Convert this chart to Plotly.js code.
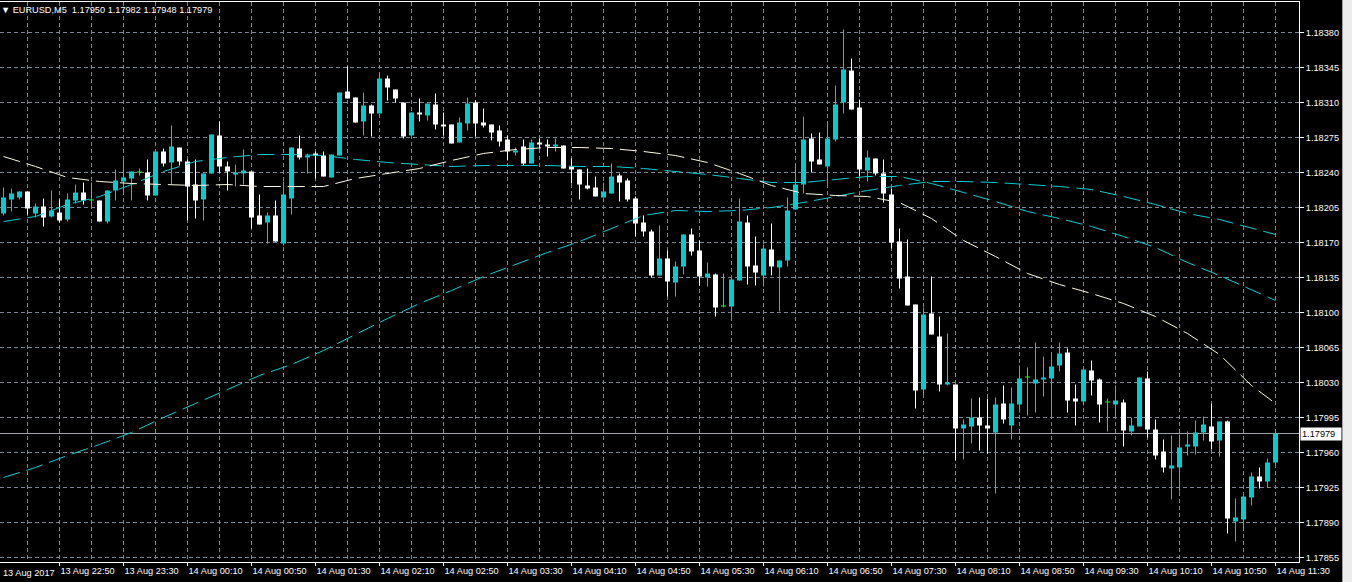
<!DOCTYPE html>
<html><head><meta charset="utf-8">
<script src="https://cdn.plot.ly/plotly-3.0.1.min.js"></script>
<style>html,body{margin:0;padding:0;background:#000;overflow:hidden}#chart{width:1352px;height:582px}</style>
</head><body><div id="chart"></div>
<script>
const titleText = "EURUSD,M5\u00a0\u00a01.17950 1.17982 1.17948 1.17979";
const lastPriceLabel = "1.17979";
const firstLabel = "13 Aug 2017";

const opens = [
1.18199,1.18213,1.18215,1.18221,1.18199,1.18206,1.18196,1.18200,1.18193,1.18212,
1.18220,1.18212,1.18212,1.18191,1.18222,1.18231,1.18234,1.18240,1.18240,1.18217,
1.18261,1.18250,1.18265,1.18251,1.18228,1.18213,1.18239,1.18277,1.18246,1.18238,
1.18239,1.18241,1.18197,1.18190,1.18197,1.18169,1.18214,1.18264,1.18255,1.18259,
1.18257,1.18235,1.18257,1.18321,1.18315,1.18291,1.18307,1.18299,1.18334,1.18323,
1.18310,1.18277,1.18300,1.18297,1.18308,1.18288,1.18288,1.18270,1.18289,1.18310,
1.18290,1.18288,1.18282,1.18273,1.18260,1.18266,1.18249,1.18270,1.18268,1.18266,
1.18267,1.18246,1.18243,1.18227,1.18225,1.18215,1.18219,1.18237,1.18232,1.18214,
1.18190,1.18181,1.18137,1.18154,1.18130,1.18146,1.18178,1.18162,1.18135,1.18138,
1.18106,1.18106,1.18132,1.18190,1.18147,1.18137,1.18163,1.18145,1.18152,1.18203,
1.18228,1.18274,1.18253,1.18246,1.18273,1.18310,1.18342,1.18305,1.18242,1.18254,
1.18239,1.18218,1.18171,1.18136,1.18108,1.18023,1.18099,1.18076,1.18028,1.18028,
1.17984,1.17986,1.17995,1.17987,1.17980,1.18009,1.17987,1.18008,1.18035,1.18029,
1.18033,1.18034,1.18047,1.18060,1.18014,1.18011,1.18042,1.18033,1.18010,1.18008,
1.18010,1.17981,1.17986,1.18034,1.17983,1.17961,1.17944,1.17945,1.17966,1.17966,
1.17980,1.17986,1.17972,1.17991,1.17891,1.17893,1.17915,1.17936,1.17931,1.17950];

const highs = [
1.18225,1.18224,1.18221,1.18221,1.18209,1.18214,1.18222,1.18213,1.18219,1.18228,
1.18230,1.18230,1.18212,1.18222,1.18243,1.18254,1.18241,1.18244,1.18253,1.18261,
1.18264,1.18287,1.18265,1.18253,1.18253,1.18239,1.18278,1.18291,1.18251,1.18248,
1.18263,1.18241,1.18218,1.18200,1.18212,1.18231,1.18265,1.18277,1.18259,1.18261,
1.18261,1.18258,1.18320,1.18346,1.18315,1.18320,1.18308,1.18339,1.18337,1.18323,
1.18310,1.18300,1.18314,1.18309,1.18319,1.18300,1.18288,1.18295,1.18315,1.18312,
1.18304,1.18288,1.18287,1.18277,1.18265,1.18273,1.18273,1.18274,1.18273,1.18274,
1.18267,1.18254,1.18243,1.18244,1.18236,1.18230,1.18249,1.18239,1.18234,1.18216,
1.18197,1.18183,1.18187,1.18162,1.18151,1.18178,1.18184,1.18172,1.18150,1.18139,
1.18139,1.18136,1.18214,1.18197,1.18176,1.18168,1.18189,1.18152,1.18215,1.18249,
1.18296,1.18279,1.18280,1.18290,1.18327,1.18383,1.18354,1.18313,1.18262,1.18254,
1.18253,1.18224,1.18184,1.18173,1.18108,1.18105,1.18136,1.18096,1.18079,1.18028,
1.17993,1.18014,1.18015,1.18014,1.18015,1.18027,1.18025,1.18047,1.18045,1.18070,
1.18056,1.18058,1.18070,1.18064,1.18028,1.18043,1.18052,1.18034,1.18014,1.18027,
1.18013,1.17995,1.18035,1.18041,1.17993,1.17973,1.17977,1.17978,1.17981,1.17992,
1.17996,1.18009,1.17991,1.17992,1.17914,1.17918,1.17940,1.17945,1.17954,1.17982];

const lows = [
1.18197,1.18201,1.18213,1.18198,1.18195,1.18186,1.18195,1.18190,1.18191,1.18209,
1.18208,1.18205,1.18191,1.18189,1.18212,1.18221,1.18212,1.18237,1.18212,1.18217,
1.18246,1.18228,1.18247,1.18192,1.18194,1.18192,1.18239,1.18240,1.18222,1.18226,
1.18228,1.18184,1.18188,1.18169,1.18171,1.18167,1.18198,1.18253,1.18239,1.18234,
1.18236,1.18235,1.18257,1.18314,1.18290,1.18277,1.18276,1.18299,1.18312,1.18310,
1.18274,1.18277,1.18291,1.18292,1.18283,1.18277,1.18269,1.18270,1.18282,1.18276,
1.18285,1.18272,1.18266,1.18252,1.18257,1.18247,1.18249,1.18264,1.18256,1.18261,
1.18244,1.18229,1.18213,1.18223,1.18216,1.18215,1.18219,1.18211,1.18211,1.18176,
1.18176,1.18135,1.18137,1.18116,1.18116,1.18138,1.18157,1.18127,1.18126,1.18096,
1.18105,1.18095,1.18132,1.18128,1.18127,1.18126,1.18137,1.18101,1.18146,1.18203,
1.18219,1.18240,1.18248,1.18227,1.18271,1.18299,1.18303,1.18236,1.18231,1.18237,
1.18210,1.18164,1.18124,1.18107,1.18004,1.18017,1.18078,1.18021,1.18027,1.17952,
1.17953,1.17969,1.17962,1.17959,1.17919,1.17989,1.17973,1.18000,1.17997,1.18000,
1.18016,1.17995,1.18041,1.18000,1.17987,1.18007,1.18017,1.17990,1.17981,1.17995,
1.17966,1.17977,1.17986,1.17975,1.17953,1.17940,1.17913,1.17921,1.17957,1.17958,
1.17972,1.17963,1.17956,1.17879,1.17871,1.17884,1.17907,1.17924,1.17925,1.17948];

const closes = [
1.18215,1.18219,1.18221,1.18204,1.18206,1.18195,1.18202,1.18192,1.18213,1.18220,
1.18212,1.18212,1.18191,1.18222,1.18232,1.18235,1.18241,1.18240,1.18217,1.18261,
1.18249,1.18266,1.18251,1.18226,1.18212,1.18239,1.18278,1.18246,1.18241,1.18240,
1.18242,1.18195,1.18188,1.18197,1.18171,1.18218,1.18265,1.18255,1.18257,1.18257,
1.18236,1.18258,1.18320,1.18314,1.18290,1.18307,1.18299,1.18334,1.18325,1.18314,
1.18276,1.18300,1.18298,1.18309,1.18288,1.18286,1.18269,1.18290,1.18309,1.18289,
1.18287,1.18280,1.18271,1.18261,1.18262,1.18249,1.18270,1.18268,1.18266,1.18268,
1.18244,1.18243,1.18228,1.18224,1.18216,1.18221,1.18236,1.18230,1.18213,1.18189,
1.18181,1.18137,1.18154,1.18131,1.18146,1.18178,1.18161,1.18136,1.18139,1.18105,
1.18106,1.18133,1.18191,1.18146,1.18140,1.18164,1.18146,1.18152,1.18202,1.18228,
1.18273,1.18251,1.18248,1.18274,1.18308,1.18343,1.18303,1.18243,1.18255,1.18239,
1.18219,1.18170,1.18134,1.18107,1.18022,1.18098,1.18078,1.18028,1.18030,1.17984,
1.17988,1.17995,1.17987,1.17984,1.18008,1.17993,1.18009,1.18034,1.18035,1.18033,
1.18035,1.18046,1.18059,1.18012,1.18011,1.18043,1.18032,1.18008,1.18010,1.18012,
1.17982,1.17987,1.18035,1.17983,1.17957,1.17945,1.17947,1.17965,1.17968,1.17980,
1.17988,1.17971,1.17991,1.17894,1.17895,1.17916,1.17936,1.17931,1.17950,1.17979];

const tickBars = [7,15,23,31,39,47,55,63,71,79,87,95,103,111,119,127,135,143,151,159];
const tickLabels = ["13 Aug 22:50","13 Aug 23:30","14 Aug 00:10","14 Aug 00:50","14 Aug 01:30",
"14 Aug 02:10","14 Aug 02:50","14 Aug 03:30","14 Aug 04:10","14 Aug 04:50","14 Aug 05:30",
"14 Aug 06:10","14 Aug 06:50","14 Aug 07:30","14 Aug 08:10","14 Aug 08:50","14 Aug 09:30",
"14 Aug 10:10","14 Aug 10:50","14 Aug 11:30"];

const maBars = [0,4,8,12,16,20,24,28,32,36,40,44,48,52,56,60,64,68,72,76,80,84,88,92,96,100,
104,108,112,116,120,124,128,132,136,140,144,148,152,156,159];
const maWhite = [1.18256,1.18246,1.18235,1.18231,1.18229,1.18228,1.18227,1.18228,1.18226,1.18226,
1.18226,1.18234,1.18239,1.18244,1.18252,1.18259,1.18263,1.18265,1.18265,1.18264,
1.18261,1.18257,1.18250,1.18239,1.18227,1.18219,1.18217,1.18216,1.18210,1.18194,
1.18172,1.18156,1.18139,1.18128,1.18119,1.18109,1.18096,1.18079,1.18058,1.18027,1.18009];
const maCyanMid = [1.18191,1.18196,1.18208,1.18216,1.18228,1.18241,1.18251,1.18255,1.18258,1.18258,
1.18257,1.18253,1.18250,1.18248,1.18246,1.18247,1.18247,1.18247,1.18246,1.18246,
1.18244,1.18241,1.18238,1.18234,1.18230,1.18230,1.18233,1.18236,1.18236,1.18229,
1.18220,1.18211,1.18201,1.18194,1.18186,1.18176,1.18165,1.18150,1.18137,1.18123,1.18112];
const maCyanSlow = [1.17935,1.17945,1.17957,1.17968,1.17980,1.17995,1.18009,1.18023,1.18037,1.18048,
1.18062,1.18078,1.18094,1.18109,1.18122,1.18136,1.18148,1.18160,1.18171,1.18184,
1.18197,1.18202,1.18201,1.18202,1.18205,1.18210,1.18216,1.18222,1.18227,1.18231,
1.18231,1.18230,1.18228,1.18226,1.18223,1.18216,1.18208,1.18199,1.18193,1.18184,1.18178];

const BULL = '#00ced1', BEAR = '#ffffff', DOJI = '#00ff00';
const GRID = '#778899';
const FONT = 'Liberation Sans, Arial, sans-serif';
const xRange = [-0.4375, -0.4375 + 1299/8];
const yRange = [1.178505, 1.184105];

function kind(i){ return closes[i] > opens[i] ? 'bull' : (closes[i] < opens[i] ? 'bear' : 'doji'); }
function bodies(k, color){
  const xs=[], base=[], h=[];
  for (let i=0;i<opens.length;i++){ if(kind(i)!==k) continue;
    xs.push(i); base.push(Math.min(opens[i],closes[i]));
    h.push(Math.max(Math.abs(closes[i]-opens[i]), 0.00001)); }
  return {type:'bar', x:xs, base:base, y:h, width:0.625, marker:{color:color, line:{width:0}}, hoverinfo:'skip', showlegend:false};
}
function wicks(k, color){
  const xs=[], ys=[];
  for (let i=0;i<opens.length;i++){ if(kind(i)!==k) continue;
    xs.push(i,i,null); ys.push(lows[i],highs[i],null); }
  return {type:'scatter', mode:'lines', x:xs, y:ys, line:{color:color,width:1}, hoverinfo:'skip', showlegend:false, connectgaps:false};
}
function ma(vals, color){
  return {type:'scatter', mode:'lines', x:maBars, y:vals, line:{color:color,width:1,dash:'17px,7px'}, hoverinfo:'skip', showlegend:false};
}

const data = [
  bodies('bull', BULL), bodies('bear', BEAR), bodies('doji', DOJI),
  wicks('bull', BULL), wicks('bear', BEAR), wicks('doji', DOJI),
  ma(maCyanSlow, BULL), ma(maCyanMid, BULL), ma(maWhite, '#fffae6')
];

const lastClose = closes[closes.length-1];
const layout = {
  width:1352, height:582,
  margin:{l:0, r:53, t:2, b:20, pad:0},
  paper_bgcolor:'#000', plot_bgcolor:'#000',
  barmode:'overlay', showlegend:false,
  font:{family:FONT, size:9.2, color:'#fff'},
  xaxis:{range:xRange, tickmode:'array', tickvals:tickBars, ticktext:tickLabels,
    ticks:'outside', ticklen:3, tickcolor:'#fff', tickwidth:1,
    ticklabelposition:'outside right',
    tickfont:{family:FONT, size:9.2, color:'#fff'},
    showgrid:true, gridcolor:GRID, gridwidth:1, griddash:'4px,3px',
    minor:{tick0:3, dtick:4, showgrid:true, gridcolor:GRID, gridwidth:1, griddash:'4px,3px', ticks:''},
    showline:true, linecolor:'#fff', linewidth:1, mirror:true, zeroline:false, fixedrange:true},
  yaxis:{range:yRange, side:'right', tick0:1.17855, dtick:0.00035, tickformat:'.5f',
    ticks:'outside', ticklen:4, tickcolor:'#fff', tickwidth:1,
    tickfont:{family:FONT, size:9.2, color:'#fff'},
    showgrid:true, gridcolor:GRID, gridwidth:1, griddash:'4px,3px',
    showline:true, linecolor:'#fff', linewidth:1, mirror:false, zeroline:false, fixedrange:true},
  shapes:[
    {type:'line', xref:'paper', x0:0, x1:1, yref:'y', y0:lastClose, y1:lastClose, line:{color:'#9aa3ad', width:1}, layer:'between'},
    {type:'rect', xref:'paper', x0:1342/1299, x1:1360/1299, yref:'paper', y0:-0.05, y1:1.01, fillcolor:'#ececec', line:{width:0}},
    {type:'line', xref:'paper', x0:1342.5/1299, x1:1342.5/1299, yref:'paper', y0:-0.05, y1:1.01, line:{color:'#a0a0a0', width:1}}
  ],
  annotations:[
    {xref:'paper', yref:'paper', x:0, y:1, xanchor:'left', yanchor:'top', yshift:-1, xshift:-1,
     text:'\u25bc\u00a0' + titleText, showarrow:false, font:{family:FONT, size:9.2, color:'#fff'}},
    {xref:'paper', yref:'paper', x:0, y:0, xanchor:'left', yanchor:'top', yshift:-4, xshift:1,
     text:firstLabel, showarrow:false, font:{family:FONT, size:9.2, color:'#fff'}},
    {xref:'paper', yref:'y', x:1, y:lastClose, xanchor:'left', yanchor:'middle', xshift:1,
     text:lastPriceLabel, showarrow:false, bgcolor:'#ffffff', borderpad:1, width:38, align:'left',
     font:{family:FONT, size:9.2, color:'#000'}}
  ]
};
Plotly.newPlot('chart', data, layout, {staticPlot:true, displayModeBar:false});
</script>
</body></html>
